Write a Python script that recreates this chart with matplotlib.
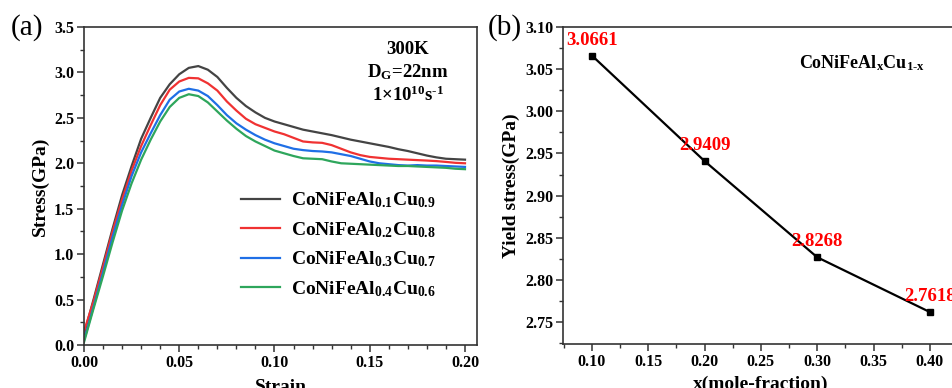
import matplotlib
matplotlib.use('Agg')
import matplotlib.pyplot as plt
from matplotlib.ticker import MultipleLocator

plt.rcParams['font.family'] = 'Liberation Serif'
plt.rcParams['font.weight'] = 'bold'
plt.rcParams['axes.labelweight'] = 'bold'
plt.rcParams['mathtext.fontset'] = 'custom'
plt.rcParams['mathtext.rm'] = 'Liberation Serif:bold'
plt.rcParams['mathtext.it'] = 'Liberation Serif:bold'
plt.rcParams['mathtext.bf'] = 'Liberation Serif:bold'
plt.rcParams['mathtext.default'] = 'rm'

# (a) stress-strain curves
strain = [0, 0.005, 0.01, 0.015, 0.02, 0.025, 0.03, 0.035, 0.04, 0.045, 0.05,
          0.055, 0.06, 0.065, 0.07, 0.075, 0.08, 0.085, 0.09, 0.095, 0.10,
          0.105, 0.11, 0.115, 0.12, 0.125, 0.13, 0.135, 0.14, 0.145, 0.15,
          0.155, 0.16, 0.165, 0.17, 0.175, 0.18, 0.185, 0.19, 0.195, 0.20]
stress_al01 = [0.12, 0.50, 0.89, 1.28, 1.65, 1.97, 2.27, 2.50, 2.72, 2.87, 2.98,
               3.05, 3.07, 3.03, 2.95, 2.83, 2.72, 2.63, 2.56, 2.50, 2.46,
               2.43, 2.40, 2.37, 2.35, 2.33, 2.31, 2.285, 2.26, 2.24, 2.22,
               2.20, 2.18, 2.155, 2.135, 2.11, 2.085, 2.065, 2.05, 2.045, 2.04]
stress_al02 = [0.15, 0.48, 0.86, 1.25, 1.60, 1.92, 2.19, 2.42, 2.64, 2.81, 2.90,
               2.94, 2.935, 2.88, 2.80, 2.68, 2.58, 2.49, 2.43, 2.39, 2.35,
               2.32, 2.28, 2.24, 2.23, 2.225, 2.20, 2.16, 2.12, 2.09, 2.07,
               2.06, 2.05, 2.045, 2.04, 2.035, 2.03, 2.024, 2.015, 2.005, 2.00]
stress_al03 = [0.05, 0.42, 0.80, 1.19, 1.54, 1.86, 2.12, 2.33, 2.53, 2.70, 2.79,
               2.82, 2.80, 2.74, 2.64, 2.53, 2.44, 2.37, 2.31, 2.26, 2.22,
               2.19, 2.16, 2.145, 2.135, 2.13, 2.12, 2.10, 2.08, 2.05, 2.02,
               2.00, 1.99, 1.98, 1.975, 1.98, 1.975, 1.975, 1.97, 1.965, 1.96]
stress_al04 = [0.03, 0.40, 0.76, 1.13, 1.48, 1.78, 2.04, 2.26, 2.46, 2.62, 2.72,
               2.76, 2.74, 2.67, 2.57, 2.47, 2.38, 2.30, 2.24, 2.19, 2.14,
               2.11, 2.08, 2.055, 2.05, 2.045, 2.02, 2.00, 1.995, 1.99, 1.985,
               1.98, 1.975, 1.97, 1.97, 1.965, 1.96, 1.955, 1.95, 1.94, 1.935]

curve_labels = [r'CoNiFeAl$_{0.1}$Cu$_{0.9}$', r'CoNiFeAl$_{0.2}$Cu$_{0.8}$',
                r'CoNiFeAl$_{0.3}$Cu$_{0.7}$', r'CoNiFeAl$_{0.4}$Cu$_{0.6}$']
curve_colors = ['#444444', '#f03232', '#1f6fe6', '#2ea65c']

# (b) yield stress vs Al fraction
x_frac = [0.1, 0.2, 0.3, 0.4]
yield_stress = [3.0661, 2.9409, 2.8268, 2.7618]

fig = plt.figure(figsize=(9.52, 3.88), dpi=100)
W, H = 952, 388


def px_axes(left, top, right, bottom):
    return fig.add_axes([left / W, 1 - bottom / H, (right - left) / W, (bottom - top) / H])


def style_axes(ax):
    for s in ax.spines.values():
        s.set_color('#333333')
        s.set_linewidth(1.2)
    ax.tick_params(which='both', direction='out', top=False, right=False,
                   color='#333333', labelsize=11.5, pad=2)
    ax.tick_params(which='major', length=5, width=1.1)
    ax.tick_params(which='minor', length=3, width=1.0)
    for lab in ax.get_xticklabels() + ax.get_yticklabels():
        lab.set_fontweight('bold')


# panel (a)
ax1 = px_axes(84, 27, 477, 345)
for y, lab, col in zip([stress_al01, stress_al02, stress_al03, stress_al04],
                       curve_labels, curve_colors):
    ax1.plot(strain, y, color=col, lw=1.6, label=lab)
ax1.set_xlim(0, 0.2063)
ax1.set_ylim(0, 3.5)
ax1.xaxis.set_major_locator(MultipleLocator(0.05))
ax1.xaxis.set_minor_locator(MultipleLocator(0.01))
ax1.yaxis.set_major_locator(MultipleLocator(0.5))
ax1.yaxis.set_minor_locator(MultipleLocator(0.25))
ax1.xaxis.set_major_formatter(lambda v, p: f'{v:.2f}')
ax1.yaxis.set_major_formatter(lambda v, p: f'{v:.1f}')
style_axes(ax1)
ax1.set_xlabel('Strain', fontsize=14, labelpad=6)
ax1.set_ylabel('Stress(GPa)', fontsize=14, labelpad=4)
ax1.legend(loc='upper left', bbox_to_anchor=(0.38, 0.51), frameon=False,
           fontsize=14, handlelength=2.0, handletextpad=0.55, labelspacing=0.5,
           borderaxespad=0)
ax1.text(0.824, 0.928, '300K', transform=ax1.transAxes, ha='center', va='center', fontsize=13.5)
ax1.text(0.824, 0.858, r'D$_G$=22nm', transform=ax1.transAxes, ha='center', va='center', fontsize=13.5)
ax1.text(0.824, 0.786, r'1×10$^{10}$s$^{\text{-}1}$', transform=ax1.transAxes, ha='center', va='center', fontsize=13.5)

# panel (b)
ax2 = px_axes(563, 27, 958, 344)
ax2.plot(x_frac, yield_stress, color='black', lw=1.6, marker='s', ms=5)
for xv, yv in zip(x_frac, yield_stress):
    ax2.annotate(f'{yv:.4f}', (xv, yv), xytext=(0, 11), textcoords='offset points',
                 ha='center', va='center', color='red', fontsize=13.5)
ax2.set_xlim(0.0743, 0.425)
ax2.set_ylim(2.7239, 3.10)
ax2.xaxis.set_major_locator(MultipleLocator(0.05))
ax2.xaxis.set_minor_locator(MultipleLocator(0.025))
ax2.yaxis.set_major_locator(MultipleLocator(0.05))
ax2.yaxis.set_minor_locator(MultipleLocator(0.025))
ax2.xaxis.set_major_formatter(lambda v, p: f'{v:.2f}')
ax2.yaxis.set_major_formatter(lambda v, p: f'{v:.2f}')
style_axes(ax2)
ax2.set_xlabel('x(mole-fraction)', fontsize=14, labelpad=4)
ax2.set_ylabel('Yield stress(GPa)', fontsize=14, labelpad=4)
ax2.text(0.757, 0.886, r'CoNiFeAl$_x$Cu$_{1\text{-}x}$', transform=ax2.transAxes,
         ha='center', va='center', fontsize=13)

fig.text(27 / W, 1 - 28 / H, '(a)', fontsize=21, fontweight='normal', ha='center', va='center')
fig.text(505 / W, 1 - 28 / H, '(b)', fontsize=21, fontweight='normal', ha='center', va='center')

fig.savefig('out.png', dpi=100)
